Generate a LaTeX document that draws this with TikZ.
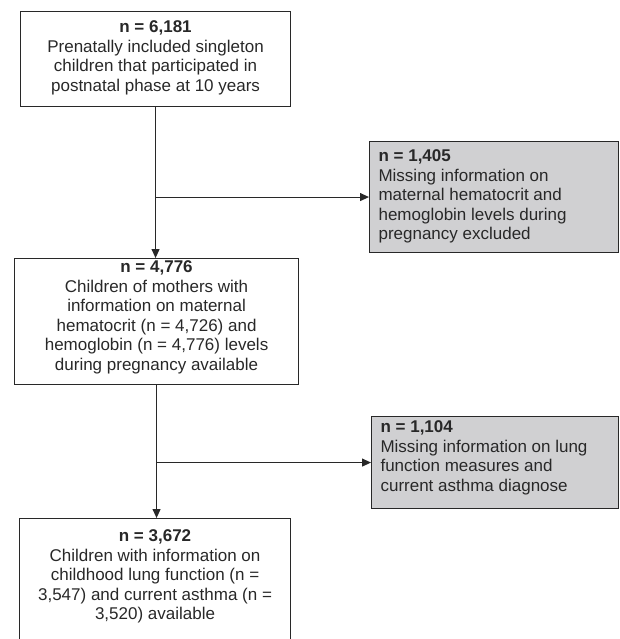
\documentclass[tikz,border=0pt]{standalone}
\usepackage{fontspec}
\setmainfont{Liberation Sans}
\usetikzlibrary{arrows.meta}
\definecolor{boxgray}{RGB}{208,208,210}
\definecolor{inkgray}{RGB}{40,40,40}
\tikzset{
  stagebox/.style={draw=inkgray, line width=1.1pt, inner sep=0pt, anchor=north west, text=inkgray,
    font=\fontsize{17}{19.6}\selectfont},
  dropbox/.style={stagebox, fill=boxgray},
  flow/.style={draw=inkgray, line width=1.1pt},
  flowarrow/.style={flow, -{Triangle[length=9pt,width=8pt]}}
}
\begin{document}
\begin{tikzpicture}[x=1pt,y=-1pt]
\useasboundingbox (0,0) rectangle (620,639);
\node[stagebox, minimum width=270, minimum height=95] (b1) at (20,11) {\parbox[c][95pt][t]{262pt}{\centering\vspace*{9pt}\textbf{n = 6,181}\\ Prenatally included singleton\\ children that participated in\\ postnatal phase at 10 years}};
\node[dropbox, minimum width=249, minimum height=111] (b2) at (369,141) {\parbox[c][111pt][t]{231pt}{\raggedright\vspace*{8pt}\textbf{n = 1,405}\\ Missing information on\\ maternal hematocrit and\\ hemoglobin levels during\\ pregnancy excluded}};
\node[stagebox, minimum width=284, minimum height=126] (b3) at (14,258) {\parbox[c][126pt][t]{276pt}{\centering\vspace*{2pt}\textbf{n = 4,776}\\ Children of mothers with\\ information on maternal\\ hematocrit (n = 4,726) and\\ hemoglobin (n = 4,776) levels\\ during pregnancy available}};
\node[dropbox, minimum width=247, minimum height=92] (b4) at (371,416) {\parbox[c][92pt][t]{229pt}{\raggedright\vspace*{4pt}\textbf{n = 1,104}\\ Missing information on lung\\ function measures and\\ current asthma diagnose}};
\node[stagebox, minimum width=271, minimum height=140] (b5) at (19,518) {\parbox[c][140pt][t]{263pt}{\centering\vspace*{11pt}\textbf{n = 3,672}\\ Children with information on\\ childhood lung function (n =\\ 3,547) and current asthma (n =\\ 3,520) available}};
\coordinate (s1) at (b1.south |- b2.west);
\coordinate (s2) at (b3.south |- b4.west);
\draw[flowarrow] (b1.south) -- (b1.south |- b3.north);
\draw[flowarrow] (s1) -- (b2.west);
\draw[flowarrow] (b3.south) -- (b3.south |- b5.north);
\draw[flowarrow] (s2) -- (b4.west);
\end{tikzpicture}
\end{document}
